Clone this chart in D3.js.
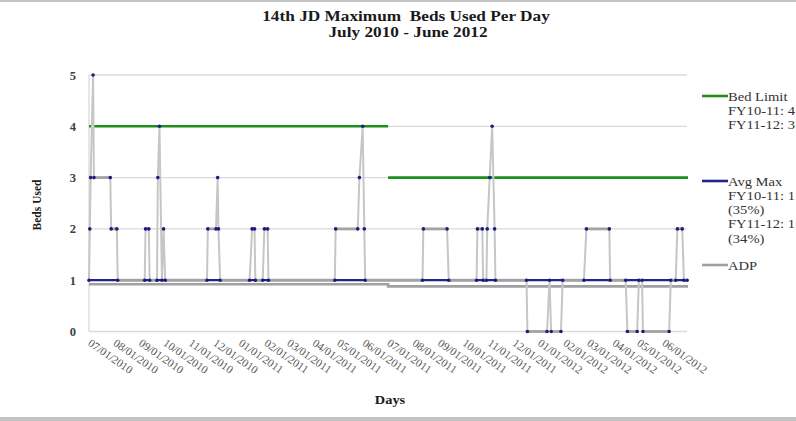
<!DOCTYPE html>
<html><head><meta charset="utf-8">
<script src="https://cdn.jsdelivr.net/npm/d3@7"></script>
<style>
html,body{margin:0;padding:0;background:#fff;}
svg{display:block;font-family:"Liberation Serif","Times New Roman",serif;}
</style></head>
<body><svg id="c" width="796" height="421"></svg>
<script>
// ---- data ----
const title1 = "14th JD Maximum  Beds Used Per Day";
const title2 = "July 2010 - June 2012";
const tickLabels = ["07/01/2010","08/01/2010","09/01/2010","10/01/2010","11/01/2010","12/01/2010",
  "01/01/2011","02/01/2011","03/01/2011","04/01/2011","05/01/2011","06/01/2011",
  "07/01/2011","08/01/2011","09/01/2011","10/01/2011","11/01/2011","12/01/2011",
  "01/01/2012","02/01/2012","03/01/2012","04/01/2012","05/01/2012","06/01/2012"];
const yTicks = [0,1,2,3,4,5];
// daily maximum beds used (change points)
const maxDates = ["2010-07-01","2010-07-02","2010-07-03","2010-07-06","2010-07-07","2010-07-27","2010-07-28","2010-08-04","2010-08-05",
  "2010-09-07","2010-09-08","2010-09-12","2010-09-13","2010-09-22","2010-09-23","2010-09-25","2010-09-28","2010-09-30","2010-10-02",
  "2010-11-22","2010-11-23","2010-12-03","2010-12-05","2010-12-06","2010-12-08",
  "2011-01-13","2011-01-16","2011-01-19","2011-01-20","2011-01-29","2011-01-31","2011-02-04","2011-02-05",
  "2011-04-27","2011-04-28","2011-05-25","2011-05-27","2011-05-31","2011-06-02","2011-06-03",
  "2011-08-12","2011-08-13","2011-09-11","2011-09-13",
  "2011-10-17","2011-10-18","2011-10-24","2011-10-25","2011-10-29","2011-10-30","2011-11-02","2011-11-05","2011-11-08","2011-11-09",
  "2011-12-17","2011-12-18","2012-01-11","2012-01-14","2012-01-16","2012-01-28","2012-01-30",
  "2012-02-25","2012-02-28","2012-03-27","2012-03-28",
  "2012-04-16","2012-04-18","2012-04-30","2012-05-02","2012-05-06","2012-05-07","2012-06-08","2012-06-10","2012-06-16","2012-06-18","2012-06-24","2012-06-26","2012-06-30"];
const maxValues = [1,2,3,5,3,3,2,2,1,
  1,2,2,1,1,3,4,1,2,1,
  1,2,2,3,2,1,
  1,2,2,1,1,2,2,1,
  1,2,2,3,4,2,1,
  1,2,2,1,
  1,2,2,1,1,2,3,4,2,1,
  1,0,0,1,0,0,1,
  1,2,2,1,
  1,0,0,1,1,0,0,1,1,2,2,1,1];
const fyBounds = ["2010-07-01","2011-07-01","2012-07-01"];
const bedLimit = [4,3];
const avgMax = [1,1];
const adp = [0.92,0.88];
const legendItems = [
  {name:"Bed Limit", lines:["FY10-11: 4","FY11-12: 3"], key:"limit"},
  {name:"Avg Max", lines:["FY10-11: 1","(35%)","FY11-12: 1","(34%)"], key:"avg"},
  {name:"ADP", lines:[], key:"adp"}
];
const colors = {limit:"#1d8f1d", avg:"#23238c", adp:"#a0a0a0", series:"#a3a3a3", seriesLight:"#c6c6c6", marker:"#1c1c80", grid:"#dadada"};

// ---- drawing ----
const parse = d3.timeParse("%Y-%m-%d");
const svg = d3.select("#c");
const x = d3.scaleTime().domain([parse(fyBounds[0]), parse(fyBounds[2])]).range([89, 688]);
const y = d3.scaleLinear().domain([0,5]).range([331.5, 75]);
const SX = 1.15; // horizontal stretch of text in the reference

// frame
svg.append("rect").attr("x",0).attr("y",0).attr("width",796).attr("height",2).attr("fill","#c4c4c4");
svg.append("rect").attr("x",0).attr("y",417).attr("width",796).attr("height",4).attr("fill","#c4c4c4");

// gridlines
svg.append("g").selectAll("line").data(yTicks).join("line")
  .attr("x1", x.range()[0]).attr("x2", 687)
  .attr("y1", d=>y(d)).attr("y2", d=>y(d))
  .attr("stroke", colors.grid).attr("stroke-width", 1.3);
svg.append("line").attr("x1",89).attr("x2",89).attr("y1",y(5)).attr("y2",y(0))
  .attr("stroke", colors.grid).attr("stroke-width",1.3);

// y axis labels
const yAxis = d3.axisLeft(y).tickValues(yTicks).tickSize(0).tickPadding(13).tickFormat(d3.format("d"));
const gy = svg.append("g").attr("transform","translate(89,0)").call(yAxis);
gy.select(".domain").remove();
gy.selectAll("text").attr("font-family","Liberation Serif").attr("font-size",12.5).attr("font-weight","bold").attr("fill","#404040");

// x axis labels
const tickDates = tickLabels.map(s => { const [m,d,yy]=s.split("/"); return new Date(+yy, +m-1, +d); });
const xAxis = d3.axisBottom(x).tickValues(tickDates).tickSize(0).tickFormat((d,i)=>tickLabels[i]);
const gx = svg.append("g").attr("transform","translate(0,331.5)").call(xAxis);
gx.select(".domain").remove();
gx.selectAll("text").attr("font-family","Liberation Serif").attr("font-size",11.3).attr("fill","#555")
  .attr("text-anchor","start").attr("y",0).attr("dy",0)
  .attr("transform","translate(0,10) rotate(35) translate(0,4)");

// step helper per fiscal year
function fyLine(vals){
  const pts=[];
  vals.forEach((v,i)=>{ pts.push([parse(fyBounds[i]),v]); pts.push([parse(fyBounds[i+1]),v]); });
  return pts;
}
const lineGen = d3.line().x(d=>x(d[0])).y(d=>y(d[1]));

// bed limit (two segments)
bedLimit.forEach((v,i)=>{
  svg.append("path").datum([[parse(fyBounds[i]),v],[parse(fyBounds[i+1]),v]])
    .attr("d", lineGen).attr("fill","none").attr("stroke",colors.limit).attr("stroke-width",2.6);
});
// avg max
svg.append("path").datum(fyLine(avgMax)).attr("d",lineGen).attr("fill","none")
  .attr("stroke",colors.avg).attr("stroke-width",2.2);
// ADP
svg.append("path").datum(fyLine(adp)).attr("d",lineGen).attr("fill","none")
  .attr("stroke",colors.adp).attr("stroke-width",2.6);

// daily max series: transitions light, plateaus heavier
const series = maxDates.map((d,i)=>[parse(d), maxValues[i]]);
svg.append("path").datum(series).attr("d",lineGen).attr("fill","none")
  .attr("stroke",colors.seriesLight).attr("stroke-width",2).attr("stroke-linejoin","round");
const plateaus = d3.pairs(series).filter(([a,b])=>a[1]===b[1]);
svg.append("g").selectAll("path").data(plateaus).join("path")
  .attr("d", d=>lineGen(d)).attr("fill","none")
  .attr("stroke",colors.series).attr("stroke-width",2.8);
svg.append("g").selectAll("circle").data(series).join("circle")
  .attr("cx",d=>x(d[0])).attr("cy",d=>y(d[1])).attr("r",1.8).attr("fill",colors.marker);

// titles
function stext(xp, yp, sx, size, str){
  return svg.append("text").attr("transform",`translate(${xp},${yp}) scale(${sx},1)`)
    .attr("text-anchor","middle").attr("font-size",size).attr("font-weight","bold")
    .attr("fill","#1a1a1a").attr("xml:space","preserve").text(str);
}
stext(406, 21, SX, 15, title1);
stext(408, 37, SX, 15, title2);
svg.append("text").attr("transform","translate(41,205) rotate(-90)").attr("text-anchor","middle")
  .attr("font-size",11.5).attr("font-weight","bold").attr("fill","#1a1a1a").text("Beds Used");
stext(390, 404, SX, 12.5, "Days");

// legend
const legY = [96, 181, 265];
legendItems.forEach((it,i)=>{
  const g = svg.append("g").attr("transform",`translate(702,${legY[i]})`);
  g.append("line").attr("x1",0).attr("x2",26).attr("y1",0).attr("y2",0)
    .attr("stroke",colors[it.key]).attr("stroke-width",2.6);
  const t = g.append("text").attr("transform",`translate(26,4.5) scale(1.12,1)`).attr("font-size",13).attr("fill","#333");
  [it.name, ...it.lines].forEach((s,j)=>{
    t.append("tspan").attr("x",0).attr("dy", j===0?0:14.3).text(s);
  });
});
</script></body></html>
